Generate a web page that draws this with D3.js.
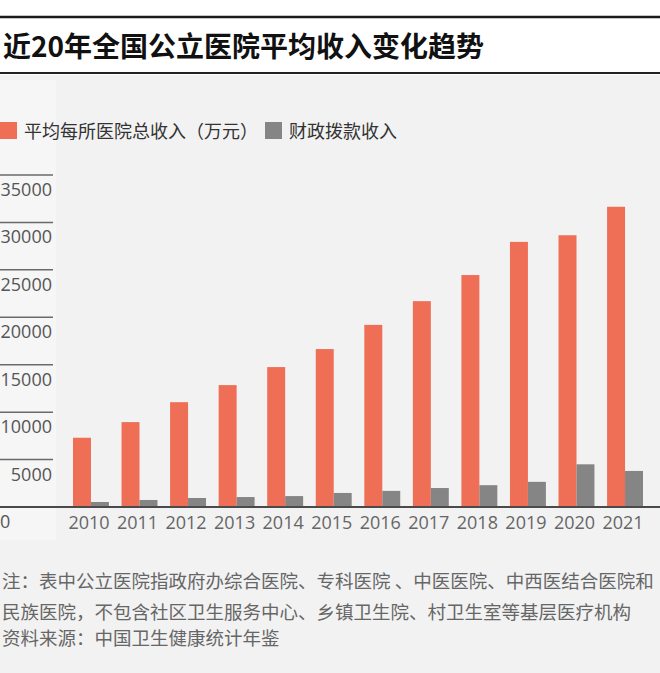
<!DOCTYPE html>
<html>
<head>
<meta charset="utf-8">
<script src="https://cdn.jsdelivr.net/npm/d3@7"></script>
<style>
  body { margin: 0; background: #f2f2f2; }
  svg { display: block; }
</style>
</head>
<body>
<div id="chart"></div>
<script>
// data
const years = ["2010", "2011", "2012", "2013", "2014", "2015", "2016", "2017", "2018", "2019", "2020", "2021"];
const totalIncome = [7300, 8950, 11050, 12850, 14750, 16650, 19200, 21700, 24450, 27950, 28650, 31650];
const fiscalIncome = [530, 740, 950, 1050, 1150, 1480, 1700, 2000, 2300, 2650, 4500, 3800];
const yTicks = [0, 5000, 10000, 15000, 20000, 25000, 30000, 35000];
const seriesNames = ["平均每所医院总收入（万元）", "财政拨款收入"];
const colors = ["#ef6e56", "#858585"];
const title = "近20年全国公立医院平均收入变化趋势";
const notes = [
  "注：表中公立医院指政府办综合医院、专科医院 、中医医院、中西医结合医院和",
  "民族医院，不包含社区卫生服务中心、乡镇卫生院、村卫生室等基层医疗机构",
  "资料来源：中国卫生健康统计年鉴"
];

const width = 660, height = 673;
const cjk = "'Noto Sans CJK SC', 'Noto Sans', sans-serif";
const num = "'Open Sans', 'Noto Sans', sans-serif";

const svg = d3.select("#chart").append("svg")
  .attr("width", width)
  .attr("height", height);

// background: white header, light grey body
svg.append("rect").attr("width", width).attr("height", height).attr("fill", "#f2f2f2");
svg.append("rect").attr("width", width).attr("height", 75).attr("fill", "#ffffff");
svg.append("rect").attr("x", 0).attr("y", 80).attr("width", 56).attr("height", 460).attr("fill", "#f6f6f6");

// header rules + title
svg.append("line").attr("x1", 0).attr("x2", width).attr("y1", 17).attr("y2", 17)
  .attr("stroke", "#1a1a1a").attr("stroke-width", 2.5);
svg.append("line").attr("x1", 0).attr("x2", width).attr("y1", 73).attr("y2", 73)
  .attr("stroke", "#222").attr("stroke-width", 2);
svg.append("text")
  .attr("x", 3).attr("y", 57)
  .attr("font-family", cjk).attr("font-weight", 700).attr("font-size", 28)
  .attr("fill", "#111")
  .text(title);

// legend
const legend = svg.append("g").attr("font-family", cjk).attr("font-size", 18).attr("fill", "#333");
const legendX = [0, 265];
seriesNames.forEach((name, i) => {
  legend.append("rect").attr("x", legendX[i]).attr("y", 122).attr("width", 17).attr("height", 17).attr("fill", colors[i]);
  legend.append("text").attr("x", legendX[i] + 24).attr("y", 137.5).text(name);
});

// scales
const x = d3.scaleBand().domain(years).range([73, 643]).paddingInner(0.26).paddingOuter(0);
const sub = d3.scaleBand().domain([0, 1]).range([0, x.bandwidth()]);
const y = d3.scaleLinear().domain([0, 35000]).range([507, 175]);

// y ticks: short rule with the label sitting under it
const yAxis = svg.append("g");
yAxis.selectAll("line").data(yTicks.filter(d => d > 0)).join("line")
  .attr("x1", 0).attr("x2", 53)
  .attr("y1", d => y(d)).attr("y2", d => y(d))
  .attr("stroke", "#6a6a6a").attr("stroke-width", 1.5);
yAxis.selectAll("text").data(yTicks).join("text")
  .attr("x", d => d === 0 ? 0 : 52)
  .attr("y", d => y(d) + 21)
  .attr("text-anchor", d => d === 0 ? "start" : "end")
  .attr("font-family", num).attr("font-size", 18).attr("fill", "#555")
  .text(d => d);

// bars
const groups = svg.append("g").selectAll("g").data(years).join("g")
  .attr("transform", d => `translate(${x(d)},0)`);
groups.append("rect")
  .attr("x", sub(0)).attr("width", sub.bandwidth())
  .attr("y", (d, i) => y(totalIncome[i]))
  .attr("height", (d, i) => y(0) - y(totalIncome[i]))
  .attr("fill", colors[0]);
groups.append("rect")
  .attr("x", sub(1)).attr("width", sub.bandwidth())
  .attr("y", (d, i) => y(fiscalIncome[i]))
  .attr("height", (d, i) => y(0) - y(fiscalIncome[i]))
  .attr("fill", colors[1]);

// baseline
svg.append("line").attr("x1", 0).attr("x2", width).attr("y1", y(0)).attr("y2", y(0))
  .attr("stroke", "#4a4a4a").attr("stroke-width", 2);

// x labels
svg.append("g").selectAll("text").data(years).join("text")
  .attr("x", d => x(d) + x.bandwidth() / 2 - 2)
  .attr("y", 529)
  .attr("text-anchor", "middle")
  .attr("font-family", num).attr("font-size", 18).attr("fill", "#666")
  .text(d => d);

// notes
svg.append("g").selectAll("text").data(notes).join("text")
  .attr("x", 2)
  .attr("y", (d, i) => [588, 619, 645][i])
  .attr("font-family", cjk).attr("font-size", 18.5).attr("fill", "#666")
  .text(d => d);
</script>
</body>
</html>
